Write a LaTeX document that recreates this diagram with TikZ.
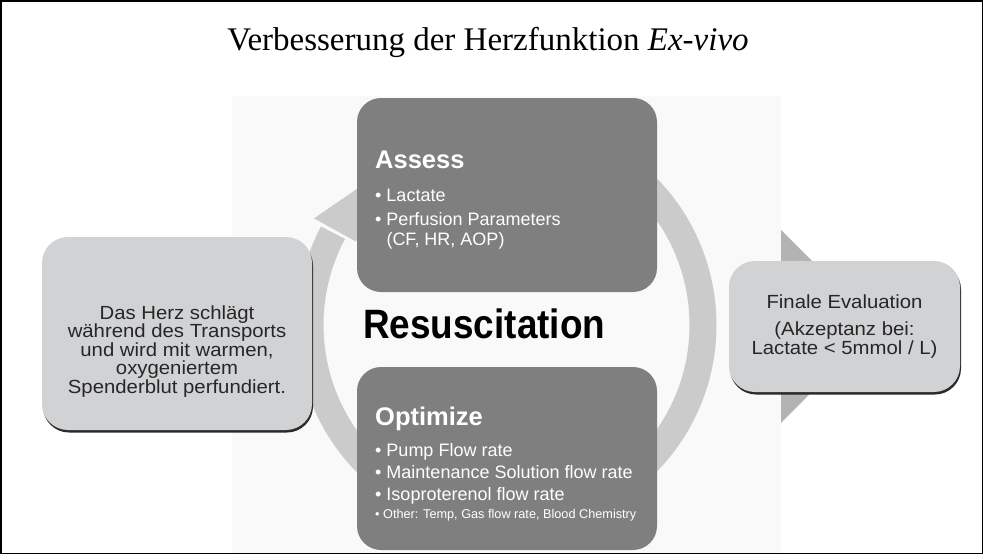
\documentclass[tikz,border=0pt]{standalone}
\usepackage{fontspec}
\setmainfont{Liberation Serif}
\setsansfont{Liberation Sans}
\usetikzlibrary{calc}
\definecolor{photobg}{HTML}{F9F9F9}
\definecolor{ringc}{HTML}{CBCBCB}
\definecolor{darkbox}{HTML}{7F7F7F}
\definecolor{lightbox}{HTML}{D1D2D4}
\definecolor{tric}{HTML}{B3B3B3}
\definecolor{shadowc}{HTML}{2A2A2A}
\newcommand{\wide}[1]{\scalebox{1.07}[1]{#1}}
\tikzset{
  darkbox/.style={fill=darkbox, rounded corners=24, inner sep=0, outer sep=0},
  lightbox/.style={fill=lightbox, rounded corners=26, inner sep=0, outer sep=0},
  shadowbox/.style={fill=shadowc, rounded corners=26, inner sep=0, outer sep=0},
  headtxt/.style={font=\sffamily\bfseries\fontsize{25.5}{25.5}\selectfont, text=white, inner sep=0, anchor=base west},
  bultxt/.style={font=\sffamily\fontsize{18}{18}\selectfont, text=white, inner sep=0, anchor=base west},
  smalltxt/.style={font=\sffamily\fontsize{12.7}{12.7}\selectfont, text=white, inner sep=0, anchor=base west},
  sidetxt/.style={font=\sffamily\fontsize{19}{19}\selectfont, text=black!85, inner sep=0, anchor=base},
}
\begin{document}
\begin{tikzpicture}[x=1pt,y=-1pt]
\useasboundingbox (0,0) rectangle (983,554);
\fill[white] (0,0) rectangle (983,554);
% photo background
\fill[photobg] (232,96) rectangle (781,554);
% ring arrow
\coordinate (C) at (506.5,325);
\draw[ringc, line width=27] ($(C)+(-50:196.5)$) arc[start angle=-50, end angle=208, radius=196.5];
\fill[ringc] ($(C)+(-151:220)$) -- ($(C)+(-126:197)$) -- ($(C)+(-151:172)$) -- cycle;
% central boxes
\node[darkbox, minimum width=300, minimum height=194] (assess) at (507,195) {};
\node[darkbox, minimum width=300, minimum height=183] (optimize) at (507,458.5) {};
% triangle
\fill[tric] (781,230) -- (877,326) -- (781,423) -- cycle;
% side boxes
\node[shadowbox, minimum width=270, minimum height=193] (leftsh) at (178,336) {};
\node[lightbox, minimum width=270, minimum height=193] (left) at (177,333.5) {};
\node[shadowbox, minimum width=231, minimum height=131] (rightsh) at (845.5,329) {};
\node[lightbox, minimum width=231, minimum height=131] (right) at (844.5,326.5) {};
% title
\node[font=\fontsize{33}{33}\selectfont, anchor=base, inner sep=0] (title) at (488,50) {Verbesserung der Herzfunktion \textit{Ex-vivo}};
% Assess text
\node[headtxt] (ah) at (375,168) {Assess};
\node[bultxt] (a1) at (375,201) {• Lactate};
\node[bultxt] (a2) at (375,225) {• Perfusion Parameters};
\node[bultxt] (a3) at (375,245) {\phantom{• }(CF, HR, AOP)};
% Resuscitation
\node[font=\sffamily\bfseries\fontsize{41}{41}\selectfont, anchor=base west, inner sep=0] (res) at (363,338) {\scalebox{0.9}[1]{Resuscitation}};
% Optimize text
\node[headtxt] (oh) at (375,425) {Optimize};
\node[bultxt] (o1) at (375,456) {• Pump Flow rate};
\node[bultxt] (o2) at (375,478) {• Maintenance Solution flow rate};
\node[bultxt] (o3) at (375,500) {• Isoproterenol flow rate};
\node[smalltxt] (o4) at (375,518) {• Other: Temp, Gas flow rate, Blood Chemistry};
% left text
\node[sidetxt] (l1) at (177,319) {\wide{Das Herz schlägt}};
\node[sidetxt] (l2) at (177,337.6) {\wide{während des Transports}};
\node[sidetxt] (l3) at (177,356.2) {\wide{und wird mit warmen,}};
\node[sidetxt] (l4) at (177,374.8) {\wide{oxygeniertem}};
\node[sidetxt] (l5) at (177,393.4) {\wide{Spenderblut perfundiert.}};
% right text
\node[sidetxt] (r1) at (844.5,308) {\wide{Finale Evaluation}};
\node[sidetxt] (r2) at (844.5,335.5) {\wide{(Akzeptanz bei:}};
\node[sidetxt] (r3) at (844.5,354.5) {\wide{Lactate < 5mmol / L)}};
% frame
\draw[line width=1.5] (0.75,0.75) rectangle (982.25,553.25);
\end{tikzpicture}
\end{document}
